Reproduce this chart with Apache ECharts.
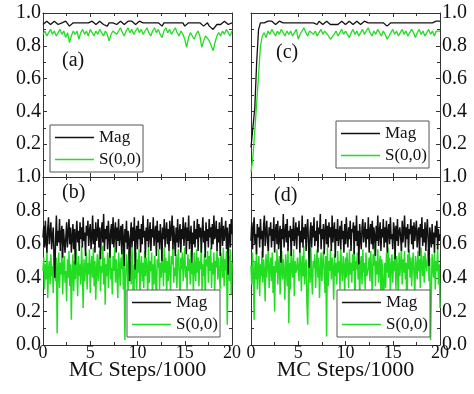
<!DOCTYPE html>
<html>
<head>
<meta charset="utf-8">
<script src="https://cdn.jsdelivr.net/npm/echarts@6/dist/echarts.min.js"></script>
<style>
  html, body { margin: 0; padding: 0; background: #fff; }
  #chart { width: 474px; height: 394px; }
</style>
</head>
<body>
<div id="chart"></div>
<script>
// Magnetisation and structure factor S(0,0) versus Monte Carlo time (in units of 1000 steps)

// Panel (a): ordered start, 101 samples over 0..20
const magA = [
  0.93,0.94,0.95,0.94,0.93,0.94,0.95,0.94,0.93,0.94,
  0.94,0.93,0.95,0.94,0.92,0.93,0.94,0.95,0.94,0.93,
  0.94,0.95,0.94,0.93,0.94,0.95,0.95,0.94,0.93,0.94,
  0.95,0.94,0.93,0.94,0.92,0.94,0.95,0.94,0.94,0.93,
  0.94,0.95,0.94,0.93,0.94,0.95,0.94,0.95,0.94,0.93,
  0.94,0.95,0.95,0.94,0.93,0.94,0.95,0.94,0.93,0.94,
  0.95,0.94,0.93,0.92,0.94,0.95,0.94,0.93,0.94,0.95,
  0.94,0.93,0.94,0.95,0.94,0.92,0.93,0.94,0.93,0.94,
  0.95,0.94,0.93,0.94,0.93,0.92,0.93,0.94,0.92,0.91,
  0.90,0.91,0.93,0.94,0.93,0.94,0.95,0.94,0.93,0.94,
  0.94
];
const sA = [
  0.87,0.89,0.86,0.88,0.90,0.87,0.89,0.86,0.88,0.90,
  0.87,0.89,0.85,0.88,0.82,0.86,0.89,0.87,0.89,0.84,
  0.88,0.90,0.87,0.89,0.86,0.90,0.88,0.86,0.89,0.87,
  0.90,0.88,0.86,0.89,0.87,0.83,0.87,0.89,0.90,0.87,
  0.89,0.91,0.88,0.86,0.89,0.91,0.88,0.90,0.87,0.89,
  0.91,0.88,0.90,0.87,0.89,0.91,0.88,0.86,0.89,0.91,
  0.88,0.90,0.87,0.85,0.89,0.91,0.88,0.90,0.87,0.89,
  0.91,0.88,0.86,0.89,0.87,0.84,0.79,0.85,0.88,0.86,
  0.84,0.87,0.89,0.86,0.79,0.83,0.86,0.87,0.83,0.80,
  0.77,0.82,0.86,0.88,0.86,0.89,0.87,0.90,0.88,0.86,
  0.89
];

// Panel (c): disordered start, 101 samples over 0..20
const magC = [
  0.18,0.30,0.42,0.70,0.90,0.94,0.95,0.94,0.93,0.95,
  0.94,0.95,0.94,0.93,0.94,0.95,0.94,0.94,0.95,0.94,
  0.93,0.94,0.95,0.94,0.93,0.94,0.95,0.94,0.95,0.94,
  0.93,0.94,0.95,0.94,0.94,0.93,0.95,0.94,0.93,0.94,
  0.95,0.94,0.93,0.92,0.93,0.94,0.93,0.94,0.95,0.94,
  0.93,0.94,0.95,0.94,0.93,0.94,0.95,0.94,0.93,0.94,
  0.95,0.94,0.94,0.93,0.94,0.95,0.94,0.93,0.94,0.95,
  0.94,0.93,0.92,0.93,0.94,0.95,0.94,0.93,0.94,0.95,
  0.94,0.93,0.94,0.95,0.94,0.93,0.94,0.95,0.94,0.93,
  0.94,0.95,0.94,0.93,0.94,0.95,0.94,0.93,0.95,0.94,
  0.95
];
const sC = [
  0.03,0.12,0.28,0.45,0.62,0.80,0.86,0.88,0.85,0.89,
  0.87,0.90,0.88,0.86,0.89,0.87,0.90,0.88,0.86,0.89,
  0.87,0.89,0.86,0.88,0.90,0.84,0.87,0.89,0.91,0.88,
  0.86,0.89,0.90,0.87,0.89,0.86,0.88,0.90,0.87,0.89,
  0.88,0.86,0.84,0.85,0.87,0.89,0.86,0.88,0.90,0.87,
  0.89,0.87,0.85,0.88,0.90,0.87,0.89,0.86,0.88,0.90,
  0.87,0.89,0.91,0.88,0.86,0.89,0.87,0.90,0.88,0.86,
  0.89,0.87,0.84,0.86,0.88,0.90,0.87,0.89,0.86,0.88,
  0.90,0.87,0.89,0.86,0.88,0.90,0.88,0.85,0.88,0.90,
  0.87,0.89,0.86,0.88,0.90,0.87,0.89,0.86,0.89,0.88,
  0.89
];

// Panel (b): 241 samples over 0..20
const magB = [
  0.64,0.71,0.58,0.74,0.62,0.55,0.69,0.76,0.60,0.67,
  0.73,0.57,0.65,0.70,0.54,0.40,0.63,0.77,0.59,0.68,
  0.61,0.75,0.56,0.66,0.71,0.52,0.69,0.62,0.55,0.64,
  0.73,0.58,0.67,0.75,0.60,0.70,0.55,0.64,0.72,0.57,
  0.69,0.48,0.66,0.74,0.61,0.68,0.56,0.73,0.63,0.70,
  0.58,0.76,0.62,0.67,0.53,0.71,0.65,0.74,0.59,0.68,
  0.72,0.57,0.64,0.77,0.60,0.69,0.55,0.73,0.62,0.66,
  0.75,0.58,0.70,0.51,0.67,0.73,0.61,0.78,0.56,0.69,
  0.63,0.71,0.57,0.74,0.65,0.52,0.68,0.72,0.60,0.76,
  0.58,0.67,0.73,0.55,0.70,0.62,0.75,0.59,0.66,0.71,
  0.54,0.72,0.64,0.47,0.69,0.61,0.74,0.57,0.68,0.63,
  0.38,0.65,0.73,0.58,0.70,0.62,0.76,0.45,0.67,0.71,
  0.57,0.74,0.63,0.69,0.55,0.72,0.60,0.77,0.64,0.68,
  0.52,0.70,0.62,0.75,0.58,0.66,0.73,0.56,0.69,0.64,
  0.76,0.59,0.67,0.71,0.53,0.74,0.61,0.68,0.57,0.72,
  0.65,0.50,0.70,0.63,0.75,0.58,0.67,0.73,0.60,0.69,
  0.56,0.74,0.62,0.68,0.77,0.57,0.71,0.64,0.53,0.70,
  0.61,0.75,0.58,0.66,0.72,0.55,0.69,0.63,0.76,0.59,
  0.68,0.73,0.54,0.70,0.62,0.77,0.57,0.65,0.71,0.49,
  0.67,0.60,0.74,0.58,0.69,0.63,0.75,0.56,0.72,0.64,
  0.70,0.55,0.67,0.76,0.61,0.68,0.52,0.73,0.62,0.69,
  0.58,0.75,0.64,0.70,0.57,0.72,0.60,0.77,0.63,0.66,
  0.74,0.56,0.69,0.61,0.73,0.53,0.68,0.76,0.59,0.71,
  0.62,0.67,0.74,0.57,0.70,0.42,0.65,0.72,0.58,0.75,
  0.66
];
const sB = [
  0.44,0.52,0.33,0.48,0.39,0.56,0.28,0.45,0.50,0.36,
  0.54,0.41,0.47,0.31,0.57,0.43,0.38,0.52,0.07,0.46,
  0.55,0.34,0.49,0.42,0.58,0.30,0.47,0.53,0.37,0.44,
  0.26,0.51,0.40,0.56,0.35,0.48,0.15,0.43,0.54,0.32,
  0.50,0.39,0.57,0.45,0.29,0.53,0.41,0.48,0.36,0.59,
  0.44,0.22,0.51,0.38,0.47,0.55,0.33,0.49,0.42,0.57,
  0.31,0.46,0.53,0.40,0.58,0.35,0.50,0.27,0.45,0.54,
  0.38,0.49,0.56,0.32,0.47,0.43,0.59,0.36,0.52,0.24,
  0.48,0.41,0.55,0.34,0.50,0.57,0.39,0.46,0.30,0.53,
  0.44,0.58,0.37,0.51,0.42,0.28,0.55,0.47,0.35,0.52,
  0.45,0.57,0.33,0.49,0.03,0.40,0.54,0.46,0.31,0.56,
  0.42,0.50,0.36,0.58,0.44,0.05,0.48,0.39,0.55,0.33,
  0.51,0.43,0.57,0.29,0.47,0.53,0.38,0.49,0.34,0.56,
  0.41,0.52,0.45,0.30,0.58,0.37,0.50,0.44,0.55,0.27,
  0.48,0.36,0.53,0.42,0.20,0.51,0.46,0.57,0.33,0.49,
  0.40,0.55,0.47,0.35,0.58,0.43,0.52,0.29,0.50,0.38,
  0.56,0.44,0.31,0.53,0.48,0.59,0.37,0.46,0.41,0.54,
  0.34,0.50,0.57,0.43,0.26,0.52,0.45,0.55,0.38,0.49,
  0.58,0.40,0.47,0.33,0.54,0.44,0.51,0.36,0.56,0.42,
  0.49,0.30,0.55,0.46,0.38,0.57,0.43,0.52,0.35,0.50,
  0.45,0.59,0.32,0.48,0.41,0.54,0.28,0.51,0.47,0.56,
  0.37,0.53,0.44,0.58,0.34,0.49,0.42,0.55,0.31,0.50,
  0.46,0.57,0.39,0.52,0.43,0.33,0.55,0.48,0.40,0.58,
  0.35,0.51,0.44,0.56,0.12,0.47,0.53,0.38,0.57,0.30,
  0.49
];

// Panel (d): 241 samples over 0..20
const magD = [
  0.62,0.73,0.57,0.69,0.76,0.60,0.66,0.54,0.72,0.64,
  0.70,0.58,0.75,0.63,0.68,0.52,0.71,0.77,0.59,0.67,
  0.74,0.61,0.56,0.70,0.65,0.73,0.58,0.69,0.62,0.76,
  0.55,0.68,0.72,0.60,0.74,0.57,0.66,0.71,0.49,0.69,
  0.63,0.78,0.58,0.67,0.72,0.61,0.75,0.56,0.68,0.64,
  0.71,0.53,0.69,0.62,0.76,0.59,0.66,0.73,0.57,0.70,
  0.65,0.74,0.55,0.68,0.61,0.77,0.58,0.70,0.63,0.72,
  0.56,0.69,0.75,0.60,0.46,0.67,0.73,0.58,0.71,0.64,
  0.76,0.59,0.68,0.62,0.74,0.55,0.70,0.66,0.78,0.57,
  0.69,0.63,0.72,0.54,0.67,0.75,0.60,0.71,0.58,0.73,
  0.64,0.70,0.56,0.77,0.61,0.68,0.73,0.52,0.69,0.62,
  0.75,0.59,0.66,0.71,0.57,0.74,0.63,0.68,0.55,0.72,
  0.60,0.76,0.65,0.58,0.70,0.63,0.74,0.56,0.69,0.67,
  0.73,0.54,0.71,0.62,0.77,0.59,0.68,0.48,0.72,0.64,
  0.57,0.70,0.75,0.61,0.66,0.73,0.58,0.69,0.63,0.76,
  0.55,0.68,0.72,0.60,0.74,0.57,0.70,0.65,0.53,0.71,
  0.62,0.77,0.59,0.67,0.73,0.56,0.69,0.64,0.75,0.58,
  0.70,0.61,0.74,0.55,0.68,0.72,0.60,0.76,0.63,0.66,
  0.57,0.73,0.69,0.51,0.71,0.62,0.75,0.59,0.67,0.70,
  0.64,0.56,0.74,0.61,0.68,0.77,0.58,0.70,0.63,0.72,
  0.55,0.69,0.66,0.75,0.60,0.71,0.57,0.73,0.62,0.68,
  0.74,0.58,0.67,0.70,0.53,0.72,0.64,0.76,0.59,0.69,
  0.61,0.73,0.56,0.68,0.75,0.62,0.47,0.70,0.65,0.58,
  0.72,0.60,0.67,0.55,0.71,0.64,0.74,0.57,0.69,0.62,
  0.66
];
const sD = [
  0.47,0.36,0.55,0.42,0.15,0.50,0.39,0.57,0.33,0.46,
  0.53,0.29,0.48,0.41,0.56,0.37,0.51,0.44,0.26,0.54,
  0.40,0.49,0.58,0.34,0.46,0.52,0.38,0.55,0.31,0.47,
  0.20,0.50,0.43,0.57,0.36,0.48,0.53,0.30,0.45,0.56,
  0.39,0.51,0.44,0.27,0.54,0.47,0.35,0.58,0.13,0.49,
  0.33,0.55,0.46,0.40,0.57,0.29,0.50,0.43,0.45,0.52,
  0.45,0.38,0.56,0.48,0.32,0.53,0.41,0.59,0.36,0.47,
  0.51,0.25,0.12,0.44,0.55,0.37,0.58,0.42,0.30,0.50,
  0.46,0.54,0.34,0.48,0.57,0.40,0.52,0.28,0.45,0.55,
  0.38,0.49,0.56,0.43,0.31,0.53,0.05,0.58,0.35,0.50,
  0.44,0.57,0.39,0.52,0.46,0.27,0.54,0.41,0.49,0.36,
  0.56,0.43,0.50,0.33,0.58,0.45,0.38,0.53,0.47,0.30,
  0.52,0.40,0.55,0.46,0.34,0.57,0.42,0.49,0.37,0.54,
  0.44,0.58,0.20,0.50,0.45,0.55,0.39,0.51,0.28,0.47,
  0.53,0.36,0.57,0.43,0.49,0.33,0.55,0.41,0.41,0.46,
  0.52,0.38,0.56,0.44,0.30,0.54,0.47,0.59,0.35,0.50,
  0.42,0.57,0.37,0.48,0.53,0.26,0.51,0.45,0.08,0.39,
  0.49,0.34,0.55,0.43,0.58,0.40,0.52,0.31,0.47,0.54,
  0.37,0.50,0.44,0.57,0.33,0.53,0.46,0.29,0.55,0.41,
  0.48,0.58,0.36,0.51,0.43,0.56,0.39,0.49,0.05,0.54,
  0.45,0.57,0.40,0.52,0.35,0.48,0.55,0.42,0.30,0.53,
  0.46,0.39,0.56,0.44,0.51,0.34,0.58,0.47,0.41,0.53,
  0.37,0.55,0.49,0.44,0.45,0.57,0.38,0.52,0.03,0.31,
  0.54,0.46,0.40,0.56,0.33,0.50,0.44,0.58,0.36,0.48,
  0.22
];

const panelLabels = ['(a)', '(b)', '(c)', '(d)'];
const xTicks = [0, 5, 10, 15, 20];
const xSpan = [0, 20];
const yTicks = [0.0, 0.2, 0.4, 0.6, 0.8, 1.0];
const seriesNames = ['Mag', 'S(0,0)'];
const xTitle = 'MC Steps/1000';

const FONT = "'Liberation Serif', 'Times New Roman', serif";
const BLACK = '#111111';
const GREEN = '#22dd22';
const FRAME = '#333333';

// sample position along x for index i of an n-long trace
function toPairs(vals) {
  const n = vals.length;
  return vals.map((v, i) => [xSpan[0] + (xSpan[1] - xSpan[0]) * i / (n - 1), v]);
}

// panel layout: a (top-left), b (bottom-left), c (top-right), d (bottom-right)
const panels = [
  { grid: { left: 43, top: 13, width: 189, height: 164 }, mag: magA, s: sA, side: 'left', bottom: false,
    legend: { left: 50, top: 125 }, label: { x: 62, y: 51 } },
  { grid: { left: 43, top: 177, width: 189, height: 168 }, mag: magB, s: sB, side: 'left', bottom: true,
    legend: { left: 127, top: 290 }, label: { x: 62, y: 183 } },
  { grid: { left: 251, top: 13, width: 189, height: 164 }, mag: magC, s: sC, side: 'right', bottom: false,
    legend: { left: 336, top: 121 }, label: { x: 276, y: 43 } },
  { grid: { left: 251, top: 177, width: 189, height: 168 }, mag: magD, s: sD, side: 'right', bottom: true,
    legend: { left: 337, top: 290 }, label: { x: 274, y: 186 } }
];

const grid = [], xAxis = [], yAxis = [], series = [], legend = [], graphic = [];

const axisLine = { show: true, onZero: false, lineStyle: { color: FRAME, width: 1 } };
const tickStyle = { color: FRAME, width: 1 };

panels.forEach((p, i) => {
  grid.push(Object.assign({ containLabel: false }, p.grid));

  // bottom x axis (labelled on lower panels) and mirrored top x axis
  xAxis.push({
    type: 'value', gridIndex: i, position: 'bottom', min: xTicks[0], max: xTicks[xTicks.length - 1], interval: 5,
    axisLine, splitLine: { show: false },
    axisTick: { show: true, inside: true, length: 4, lineStyle: tickStyle },
    minorTick: { show: true, splitNumber: 2, length: 3, lineStyle: tickStyle },
    axisLabel: { show: p.bottom, margin: -1, fontFamily: FONT, fontSize: 18, color: '#111' },
    name: p.bottom ? xTitle : '', nameLocation: 'middle', nameGap: 14, nameMoveOverlap: false,
    nameTextStyle: { fontFamily: FONT, fontSize: 22, color: '#111', verticalAlign: 'top' }
  });
  xAxis.push({
    type: 'value', gridIndex: i, position: 'top', min: xTicks[0], max: xTicks[xTicks.length - 1], interval: 5,
    axisLine, splitLine: { show: false },
    axisTick: { show: true, inside: true, length: 4, lineStyle: tickStyle },
    minorTick: { show: true, splitNumber: 2, length: 3, lineStyle: tickStyle },
    axisLabel: { show: false }
  });

  const other = p.side === 'left' ? 'right' : 'left';
  yAxis.push({
    type: 'value', gridIndex: i, position: p.side, min: yTicks[0], max: yTicks[yTicks.length - 1], interval: 0.2,
    axisLine, splitLine: { show: false },
    axisTick: { show: true, inside: true, length: 4, lineStyle: tickStyle },
    minorTick: { show: true, splitNumber: 2, length: 3, lineStyle: tickStyle },
    axisLabel: {
      show: true, margin: 2, fontFamily: FONT, fontSize: 20, color: '#111',
      formatter: v => (!p.bottom && v === 0) ? '' : v.toFixed(1)
    }
  });
  yAxis.push({
    type: 'value', gridIndex: i, position: other, min: yTicks[0], max: yTicks[yTicks.length - 1], interval: 0.2,
    axisLine, splitLine: { show: false },
    axisTick: { show: true, inside: true, length: 4, lineStyle: tickStyle },
    minorTick: { show: true, splitNumber: 2, length: 3, lineStyle: tickStyle },
    axisLabel: { show: false }
  });

  const lw = p.bottom ? 1.5 : 1.3;
  series.push({
    name: seriesNames[1], type: 'line', xAxisIndex: 2 * i, yAxisIndex: 2 * i,
    data: toPairs(p.s), showSymbol: false, symbol: 'none', z: 2,
    lineStyle: { color: GREEN, width: lw }, itemStyle: { color: GREEN }
  });
  series.push({
    name: seriesNames[0], type: 'line', xAxisIndex: 2 * i, yAxisIndex: 2 * i,
    data: toPairs(p.mag), showSymbol: false, symbol: 'none', z: 3,
    lineStyle: { color: BLACK, width: lw }, itemStyle: { color: BLACK }
  });

  legend.push({
    left: p.legend.left, top: p.legend.top, orient: 'vertical',
    data: seriesNames.slice(),
    icon: 'rect',
    backgroundColor: '#fff', borderColor: '#555', borderWidth: 1, borderRadius: 0,
    padding: [4, 2, 4, 5], itemGap: 5, itemWidth: 39, itemHeight: 1.5, itemTextGap: 4,
    textStyle: { fontFamily: FONT, fontSize: 17, color: '#111' },
    selectedMode: false, z: 10
  });

  graphic.push({
    type: 'text', left: p.label.x, top: p.label.y, z: 20,
    style: { text: panelLabels[i], font: '20px ' + FONT, fill: '#111' }
  });
});

const chart = echarts.init(document.getElementById('chart'), null, { renderer: 'canvas' });
chart.setOption({
  animation: false,
  backgroundColor: '#fff',
  grid, xAxis, yAxis, series, legend, graphic
});
</script>
</body>
</html>
